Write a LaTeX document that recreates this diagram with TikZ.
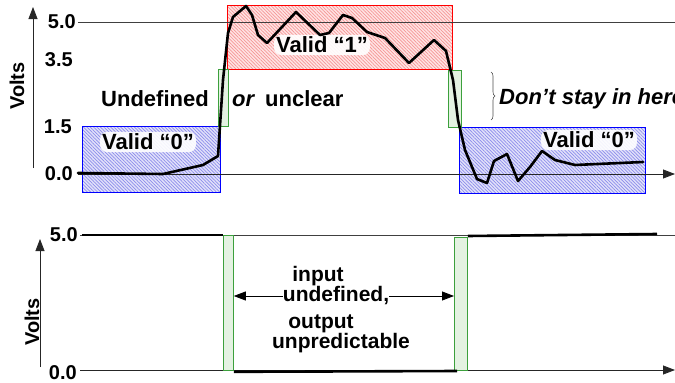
\documentclass[tikz,border=0pt]{standalone}
\usepackage{fontspec}
\setmainfont{Liberation Sans}
\usetikzlibrary{patterns.meta,arrows.meta,decorations.pathreplacing}
\definecolor{gfill}{RGB}{228,242,226}
\definecolor{gline}{RGB}{60,160,60}
\definecolor{rfill}{RGB}{255,228,228}
\definecolor{rhatch}{RGB}{245,150,150}
\definecolor{bfill}{RGB}{225,225,250}
\definecolor{bhatch}{RGB}{140,140,235}
\begin{document}
\begin{tikzpicture}[x=1pt,y=-1pt,
  font=\bfseries\fontsize{22}{25}\selectfont,
  axisline/.style={line width=0.8pt,black!85},
  thinline/.style={line width=0.7pt,black!75},
  arrowline/.style={line width=0.8pt,black!85,-{Triangle[length=12pt,width=9pt]}},
  wave/.style={line width=2.6pt,line join=round,line cap=round},
  thick line/.style={line width=2.6pt},
  redbox/.style={draw=red,line width=0.7pt,preaction={fill=rfill},pattern={Lines[angle=-45,distance=2.4pt,line width=0.7pt]},pattern color=rhatch},
  bluebox/.style={draw=blue,line width=0.7pt,preaction={fill=bfill},pattern={Lines[angle=-45,distance=2.4pt,line width=0.7pt]},pattern color=bhatch},
  gbox/.style={draw=gline,line width=0.8pt,fill=gfill,inner sep=0pt,anchor=north west},
  ylab/.style={anchor=east,inner sep=0pt,font=\bfseries\fontsize{20}{22}\selectfont},
  vlab/.style={rotate=90,inner sep=0pt,font=\bfseries\fontsize{20}{22}\selectfont},
  validlab/.style={fill=white,fill opacity=0.9,text opacity=1,rounded corners=7pt,inner sep=2pt},
  txt/.style={inner sep=0pt,anchor=base west},
  btxt/.style={inner sep=0pt,font=\bfseries\fontsize{21}{23}\selectfont}
]
\useasboundingbox (0,0) rectangle (675,383);
\clip (0,0) rectangle (675,383);
% ---------------- top plot ----------------
\coordinate (ya0) at (33,168);
\coordinate (ya1) at (33,7);
\draw[arrowline] (ya0) -- (ya1);
\node[vlab] (volts1) at (17,86) {Volts};
\node[ylab] (t50) at (76,22) {5.0};
\node[ylab] (t35) at (73,60) {3.5};
\node[ylab] (t15) at (72,127) {1.5};
\node[ylab] (t00) at (73,174) {0.0};
% boxes
\draw[bluebox] (82,126) rectangle (220,192);
\draw[redbox] (227,5) rectangle (452,69);
\draw[bluebox] (459,127) rectangle (645,193);
\node[gbox,minimum width=10pt,minimum height=57pt] (g1) at (218,69) {};
\node[gbox,minimum width=13pt,minimum height=57pt] (g2) at (448,70) {};
% axes lines
\coordinate (l5a) at (78,22);
\coordinate (l5b) at (675,22);
\draw[thinline] (l5a) -- (l5b);
\coordinate (l0a) at (78,174);
\coordinate (l0b) at (675,174);
\draw[arrowline] (l0a) -- (l0b);
% labels
\node[validlab] (v0a) at (148,142) {Valid “0”};
\node[validlab] (v1) at (322,45) {Valid “1”};
\node[validlab] (v0b) at (589,140) {Valid “0”};
\node[txt] (undef) at (101,106) {Undefined};
\node[txt] (or) at (232,106) {\textit{or}};
\node[txt] (unclear) at (265,106) {unclear};
\coordinate (br1) at (491,72);
\coordinate (br2) at (491,120);
\draw[black!70,line width=0.6pt,decorate,decoration={brace,amplitude=4pt}] (br1) -- (br2);
\node[txt] (dont) at (499,104) {\textit{Don’t stay in here}};
% waveform
\draw[wave] (78,173) -- (163,174) -- (203,165) -- (218,156) -- (223,80) -- (228,33) -- (233,17) -- (246,6) -- (252,15) -- (258,35) -- (267,43) -- (296,12) -- (320,35) -- (329,33) -- (343,15) -- (352,18) -- (367,32) -- (385,38) -- (409,63) -- (434,40) -- (446,51) -- (453,80) -- (458,120) -- (465,150) -- (477,179) -- (487,183) -- (494,161) -- (507,154) -- (518,181) -- (530,167) -- (542,151) -- (555,160) -- (575,165) -- (643,162);
% ---------------- bottom plot ----------------
\coordinate (yb0) at (40,367);
\coordinate (yb1) at (40,239);
\draw[arrowline] (yb0) -- (yb1);
\node[vlab] (volts2) at (32,322) {Volts};
\node[ylab] (b50) at (78,235) {5.0};
\node[ylab] (b00) at (77,373) {0.0};
\coordinate (m5a) at (80,235);
\coordinate (m5b) at (675,235);
\draw[thinline] (m5a) -- (m5b);
\coordinate (m0a) at (80,370);
\coordinate (m0b) at (675,370);
\draw[arrowline] (m0a) -- (m0b);
\node[gbox,minimum width=10pt,minimum height=135pt] (h1) at (223,235) {};
\node[gbox,minimum width=13pt,minimum height=133pt] (h2) at (454,237) {};
\draw[thick line] (82,235) -- (h1.north west);
\draw[thick line] (h2.north east) ++(0,-1) -- (657,234);
\draw[thick line] (h1.south east) ++(0,1) -- (457,371);
\node[btxt] (inp) at (318,276) {input};
\node[btxt] (und) at (336,296) {undefined,};
\node[btxt] (outp) at (321,324) {output};
\node[btxt] (unp) at (341,343) {unpredictable};
\draw[line width=0.8pt,-{Triangle[length=12pt,width=9pt]}] (und.west) -- (h1.east |- und.west);
\draw[line width=0.8pt,-{Triangle[length=12pt,width=9pt]}] (und.east) -- (h2.west |- und.east);
\end{tikzpicture}
\end{document}
